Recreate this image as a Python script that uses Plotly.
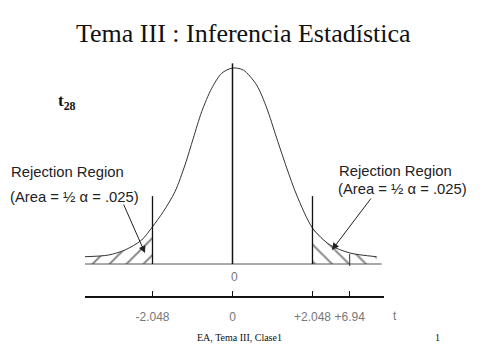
import plotly.graph_objects as go

# ---------------- data ----------------
title_text = "Tema III : Inferencia Estadística"
region_title = "Rejection Region"
region_area = "(Area = ½ α = .025)"
footer_text = "EA, Tema III, Clase1"
page_number = "1"

# bell curve (schematic t28 density)
curve_x = [-3.776, -3.18, -2.752, -2.325, -2.048, -1.772, -1.472, -1.216, -1.004,
           -0.789, -0.532, -0.276, 0.0, 0.276, 0.62, 0.876, 1.132, 1.388, 1.644,
           2.048, 2.496, 3.008, 3.69]
curve_y = [0.0147, 0.018, 0.0283, 0.0484, 0.0753, 0.1056, 0.146, 0.1998, 0.2537,
           0.3074, 0.3547, 0.385, 0.3956, 0.3916, 0.361, 0.315, 0.254, 0.194, 0.139,
           0.0727, 0.0384, 0.0222, 0.0147]

critical_values = [-2.048, 2.048]
tick_labels = ["-2.048", "0", "+2.048", "+6.94"]
tick_positions = [-2.048, 0.0, 2.048, 3.0]   # schematic place of 6.94
observed_position = 3.0
axis_name = "t"

# ---------------- layout helpers ----------------
W, H = 480, 360
L, R, T, B = 85, 96, 0, 64
PW, PH = W - L - R, H - T - B
XR = [-3.776, 3.879]
YR = [-0.0646, 0.5329]


def px(xp):
    return (xp - L) / PW


def py(yp):
    return (H - B - yp) / PH


SANS = "Liberation Sans, Arial, sans-serif"
SERIF = "Liberation Serif, Times New Roman, serif"

fig = go.Figure()

# hatched tails
left_x = [x for x in curve_x if x <= critical_values[0]]
left_y = [y for x, y in zip(curve_x, curve_y) if x <= critical_values[0]]
right_x = [x for x in curve_x if x >= critical_values[1]]
right_y = [y for x, y in zip(curve_x, curve_y) if x >= critical_values[1]]

for tx, ty, shp in [(left_x, left_y, "/"), (right_x, right_y, "\\")]:
    fig.add_trace(go.Scatter(x=tx, y=ty, mode="lines", fill="tozeroy",
                             line=dict(width=0, shape="spline"),
                             fillcolor="rgba(0,0,0,0)",
                             fillpattern=dict(shape=shp, fgcolor="#000", bgcolor="rgba(0,0,0,0)",
                                              size=12, solidity=0.16),
                             hoverinfo="skip", showlegend=False))

# main curve
fig.add_trace(go.Scatter(x=curve_x, y=curve_y, mode="lines",
                         line=dict(color="#333", width=1, shape="spline", smoothing=0.8),
                         hoverinfo="skip", showlegend=False))

shapes = []
# baseline of the curve
shapes.append(dict(type="line", xref="x", yref="y", x0=XR[0] - 0.05, x1=3.82, y0=0, y1=0,
                   line=dict(color="#555", width=1)))
# centre line
shapes.append(dict(type="line", xref="x", yref="y", x0=0, x1=0, y0=0, y1=0.405,
                   line=dict(color="#111", width=1.5)))
# critical lines
for cv in critical_values:
    shapes.append(dict(type="line", xref="x", yref="y", x0=cv, x1=cv, y0=0, y1=0.137,
                       line=dict(color="#111", width=1.3)))
# observed value tick on the baseline
shapes.append(dict(type="line", xref="x", yref="y", x0=observed_position, x1=observed_position,
                   y0=-0.004, y1=0.02, line=dict(color="#333", width=1)))

annotations = []


def label(text, xpix, ypix, family, size, color, xanchor="center"):
    annotations.append(dict(text=text, xref="paper", yref="paper", x=px(xpix), y=py(ypix),
                            xanchor=xanchor, yanchor="middle", showarrow=False,
                            font=dict(family=family, size=size, color=color)))


label(title_text, 243, 33, SERIF, 26, "#111")
label("<b>t</b><sub><b>28</b></sub>", 56, 102, SERIF, 17, "#111", "left")
# left labels
label(region_title, 9, 172, SANS, 14.8, "#222", "left")
label(region_area, 8, 197, SANS, 14.8, "#222", "left")
# right labels
label(region_title, 337, 171, SANS, 14.8, "#222", "left")
label(region_area, 336, 189, SANS, 14.8, "#222", "left")
# zero under baseline
label("0", 234, 277, SANS, 12, "#777")
# axis name
label(axis_name, 395, 316, SANS, 12, "#777")
# footer
label(footer_text, 239, 337, SERIF, 10, "#111")
label(page_number, 437, 337, SERIF, 10, "#111")

# arrows
annotations.append(dict(text="", x=-2.24, y=0.0222, ax=-2.803, ay=0.123, xref="x", yref="y",
                        axref="x", ayref="y", showarrow=True, arrowhead=2, arrowsize=1.4,
                        arrowwidth=1, arrowcolor="#222"))
annotations.append(dict(text="", x=2.547, y=0.0283, ax=3.571, ay=0.135, xref="x", yref="y",
                        axref="x", ayref="y", showarrow=True, arrowhead=2, arrowsize=1.4,
                        arrowwidth=1, arrowcolor="#222"))

fig.update_layout(
    width=W, height=H,
    margin=dict(l=L, r=R, t=T, b=B),
    paper_bgcolor="white", plot_bgcolor="white",
    shapes=shapes, annotations=annotations,
    showlegend=False,
    xaxis=dict(range=XR, showgrid=False, zeroline=False, showline=True, linecolor="#111",
               linewidth=1.5, ticks="inside", ticklen=5, tickwidth=1, tickcolor="#111",
               tickvals=tick_positions, ticktext=tick_labels, ticklabelstandoff=9,
               tickfont=dict(family=SANS, size=12, color="#777"), fixedrange=True),
    yaxis=dict(range=YR, visible=False, fixedrange=True),
)

fig.write_html("out.html", config={"displayModeBar": False})
